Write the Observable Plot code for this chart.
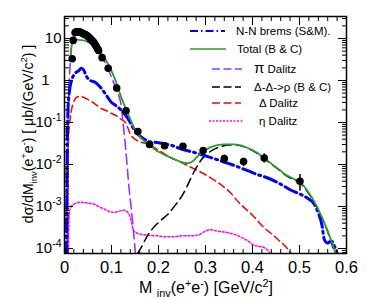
<!DOCTYPE html>
<html><head><meta charset="utf-8">
<script src="https://cdn.jsdelivr.net/npm/d3@7"></script>
<script src="https://cdn.jsdelivr.net/npm/@observablehq/plot@0.6"></script>
<style>body{margin:0;background:#fff}</style>
</head><body><div id="chart"></div>
<script>
// ---- data ----
const xTickValues = [0, 0.1, 0.2, 0.3, 0.4, 0.5, 0.6];
const xTickLabels = ["0", "0.1", "0.2", "0.3", "0.4", "0.5", "0.6"];
const yTickValues = [10, 1, 0.1, 0.01, 0.001, 0.0001];
const yTickLabels = ["10", "1", "10^-1", "10^-2", "10^-3", "10^-4"];

// measured points
const dataX = [0.0163, 0.0185, 0.0225, 0.025, 0.0275, 0.030, 0.0325, 0.035, 0.0375, 0.040, 0.0425, 0.045, 0.0475, 0.050, 0.0525, 0.055, 0.0575, 0.060, 0.0625, 0.065, 0.0675, 0.070, 0.0725, 0.080, 0.093, 0.111, 0.131, 0.156, 0.181, 0.213, 0.252, 0.295, 0.340, 0.381, 0.425, 0.501];
const dataY = [3.3, 9.0, 13.8, 14.4, 14.5, 14.4, 14.2, 13.9, 13.5, 13.0, 12.6, 12.2, 11.8, 11.2, 10.5, 9.9, 9.2, 8.6, 8.0, 7.2, 6.5, 5.8, 5.2, 3.5, 1.95, 0.66, 0.19, 0.061, 0.030, 0.028, 0.027, 0.0216, 0.0139, 0.0118, 0.0142, 0.0040];
const errX = [0.295, 0.340, 0.381, 0.425, 0.501];
const errLow = [0.019, 0.0103, 0.0089, 0.0109, 0.0023];
const errHigh = [0.025, 0.0167, 0.0141, 0.018, 0.0058];

// N-N brems (S&M)
const bremsX = [0.004, 0.0055, 0.007, 0.010, 0.015, 0.022, 0.030, 0.036, 0.041, 0.046, 0.055, 0.066, 0.075, 0.087, 0.10, 0.11, 0.12, 0.13, 0.14, 0.15, 0.16, 0.17, 0.18, 0.20, 0.23, 0.25, 0.275, 0.30, 0.325, 0.35, 0.38, 0.41, 0.43, 0.46, 0.48, 0.50, 0.52, 0.53, 0.54, 0.548, 0.553, 0.56, 0.568, 0.575, 0.583];
const bremsY = [7e-5, 0.01, 0.15, 0.5, 1.0, 1.45, 1.7, 1.95, 1.75, 1.3, 1.0, 0.9, 0.72, 0.48, 0.30, 0.25, 0.2, 0.15, 0.10, 0.062, 0.048, 0.040, 0.035, 0.033, 0.028, 0.023, 0.0195, 0.016, 0.013, 0.0105, 0.0079, 0.0058, 0.0049, 0.0034, 0.0025, 0.0020, 0.0015, 0.0012, 7e-4, 3.5e-4, 1.6e-4, 1.35e-4, 1.5e-4, 1.1e-4, 6e-5];

// Total (B & C)
const totalX = [0.012, 0.016, 0.020, 0.030, 0.040, 0.050, 0.060, 0.070, 0.080, 0.090, 0.100, 0.110, 0.120, 0.130, 0.140, 0.150, 0.160, 0.170, 0.180, 0.190, 0.200, 0.215, 0.230, 0.245, 0.261, 0.272, 0.289, 0.311, 0.339, 0.360, 0.389, 0.410, 0.425, 0.440, 0.455, 0.470, 0.485, 0.500, 0.510, 0.520, 0.530, 0.540, 0.550, 0.560, 0.570, 0.578];
const totalY = [3, 7.5, 9.3, 9.3, 9.0, 8.2, 7.2, 5.8, 4.2, 2.8, 1.7, 0.9, 0.42, 0.22, 0.12, 0.068, 0.046, 0.036, 0.029, 0.024, 0.020, 0.0165, 0.014, 0.0118, 0.0107, 0.0118, 0.018, 0.0259, 0.030, 0.030, 0.025, 0.019, 0.0140, 0.0105, 0.0078, 0.0058, 0.0047, 0.0039, 0.0030, 0.0021, 0.0014, 8.5e-4, 4.8e-4, 2.6e-4, 1.3e-4, 7e-5];

// pi Dalitz
const piX = [0.0065, 0.0075, 0.009, 0.011, 0.0135, 0.017, 0.021, 0.026, 0.030, 0.040, 0.050, 0.060, 0.070, 0.080, 0.090, 0.100, 0.110, 0.115, 0.120, 0.125, 0.130, 0.137, 0.144, 0.151];
const piY = [7.5e-5, 0.01, 0.3, 1.5, 4.5, 9, 12, 13.5, 13.5, 12.2, 10, 7.8, 5.6, 3.6, 2.2, 1.2, 0.62, 0.45, 0.28, 0.09, 0.025, 0.003, 5.6e-4, 7.5e-5];

// Delta-Delta -> rho (B & C)
const rhoX = [0.155, 0.165, 0.175, 0.190, 0.205, 0.220, 0.235, 0.250, 0.260, 0.270, 0.280, 0.290, 0.300, 0.315, 0.330, 0.350, 0.365, 0.389, 0.410, 0.425, 0.440, 0.455, 0.470, 0.485, 0.500, 0.520, 0.540, 0.560, 0.576];
const rhoY = [7.5e-5, 1.15e-4, 1.9e-4, 3.2e-4, 4.7e-4, 6.5e-4, 1.05e-3, 1.8e-3, 2.9e-3, 5e-3, 8.3e-3, 0.0125, 0.0165, 0.022, 0.026, 0.029, 0.029, 0.0245, 0.0185, 0.0136, 0.0102, 0.0076, 0.0056, 0.0045, 0.0037, 0.0020, 8.2e-4, 2.5e-4, 7e-5];

// Delta Dalitz
const deltaX = [0.006, 0.0075, 0.009, 0.012, 0.016, 0.022, 0.028, 0.034, 0.040, 0.050, 0.060, 0.070, 0.080, 0.090, 0.100, 0.110, 0.120, 0.130, 0.140, 0.155, 0.176, 0.197, 0.226, 0.250, 0.268, 0.300, 0.325, 0.350, 0.374, 0.400, 0.424, 0.450, 0.474, 0.485];
const deltaY = [7e-5, 0.01, 0.05, 0.12, 0.23, 0.35, 0.41, 0.42, 0.40, 0.35, 0.30, 0.25, 0.21, 0.19, 0.165, 0.145, 0.12, 0.10, 0.053, 0.037, 0.031, 0.023, 0.0145, 0.011, 0.0087, 0.0057, 0.0038, 0.0023, 0.00115, 6.2e-4, 3.2e-4, 1.8e-4, 1.0e-4, 7e-5];

// eta Dalitz
const etaX = [0.0085, 0.009, 0.011, 0.016, 0.025, 0.034, 0.045, 0.055, 0.062, 0.072, 0.084, 0.095, 0.105, 0.115, 0.126, 0.133, 0.140, 0.147, 0.155, 0.165, 0.180, 0.197, 0.215, 0.233, 0.250, 0.268, 0.285, 0.300, 0.311, 0.325, 0.346, 0.360, 0.374, 0.389, 0.403, 0.425, 0.440];
const etaY = [7e-5, 3e-4, 8e-4, 1.05e-3, 1.2e-3, 1.26e-3, 1.22e-3, 1.18e-3, 1.15e-3, 1.0e-3, 8.7e-4, 7.6e-4, 7.3e-4, 7.6e-4, 8.2e-4, 7.5e-4, 5.6e-4, 2.7e-4, 2.3e-4, 2.15e-4, 2.05e-4, 2.0e-4, 1.9e-4, 1.9e-4, 2.0e-4, 2.0e-4, 2.1e-4, 2.6e-4, 2.8e-4, 2.6e-4, 2.4e-4, 2.2e-4, 1.9e-4, 1.55e-4, 1.2e-4, 1.05e-4, 7e-5];

const legendLabels = ["N-N brems (S&M).", "Total (B & C)", "π Dalitz", "Δ-Δ->ρ (B & C)", "Δ Dalitz", "η Dalitz"];

// ---- helpers ----
const pts = (xs, ys) => xs.map((x, i) => ({x, y: ys[i]}));
const xMinor = d3.range(0, 0.6001, 0.02).map(v => +v.toFixed(3)).filter(v => !xTickValues.some(t => Math.abs(t - v) < 1e-9));
const yMinor = [];
for (let e = -5; e <= 1; e++) for (let m = 2; m <= 9; m++) { const v = m * Math.pow(10, e); if (v > 7.6e-5 && v < 33.4) yMinor.push(v); }

const font = "'Liberation Sans', Arial, sans-serif";
const line = (xs, ys, o) => Plot.line(pts(xs, ys), {x: "x", y: "y", curve: "monotone-x", clip: true, ...o});

const chart = Plot.plot({
  width: 374, height: 299,
  marginLeft: 64, marginRight: 28, marginTop: 16, marginBottom: 46,
  style: {fontFamily: font, background: "white", color: "black"},
  x: {domain: [0, 0.6]},
  y: {type: "log", domain: [7.6e-5, 33.4]},
  marks: [
    // curves
    line(etaX, etaY, {stroke: "#ff00ff", strokeWidth: 1.5, strokeDasharray: "2,2"}),
    line(deltaX, deltaY, {stroke: "#ff0000", strokeWidth: 1.5, strokeDasharray: "7,4"}),
    line(rhoX, rhoY, {stroke: "black", strokeWidth: 1.5, strokeDasharray: "9,5"}),
    line(piX, piY, {stroke: "#9933ff", strokeWidth: 1.6, strokeDasharray: "10,5"}),
    line(bremsX, bremsY, {stroke: "#0000ff", strokeWidth: 3, strokeDasharray: "13,4,2,4"}),
    line(totalX, totalY, {stroke: "#2e9b2e", strokeWidth: 1.8}),
    // data
    Plot.ruleX(errX.map((x, i) => ({x, lo: errLow[i], hi: errHigh[i]})), {x: "x", y1: "lo", y2: "hi", stroke: "black", strokeWidth: 1.5}),
    Plot.dot(pts(dataX, dataY), {x: "x", y: "y", r: 3.8, fill: "black", stroke: "none"}),
    // axes: ticks inside the frame
    Plot.axisX({anchor: "bottom", ticks: xTickValues, tickSize: -8, tickFormat: () => "", label: null}),
    Plot.axisX({anchor: "bottom", ticks: xMinor, tickSize: -4, tickFormat: () => "", label: null}),
    Plot.axisX({anchor: "top", ticks: xTickValues, tickSize: -8, tickFormat: () => "", label: null}),
    Plot.axisX({anchor: "top", ticks: xMinor, tickSize: -4, tickFormat: () => "", label: null}),
    Plot.axisX({anchor: "bottom", ticks: xTickValues, tickSize: 0, tickPadding: 8, fontSize: 16.5, tickFormat: d => xTickLabels[xTickValues.indexOf(d)], label: null}),
    Plot.axisY({anchor: "left", ticks: yTickValues, tickSize: -9, tickFormat: () => "", label: null}),
    Plot.axisY({anchor: "left", ticks: yMinor, tickSize: -5, tickFormat: () => "", label: null}),
    Plot.axisY({anchor: "right", ticks: yTickValues, tickSize: -9, tickFormat: () => "", label: null}),
    Plot.axisY({anchor: "right", ticks: yMinor, tickSize: -5, tickFormat: () => "", label: null}),
    Plot.axisY({anchor: "left", ticks: yTickValues, tickSize: 0, tickPadding: 3, fontSize: 15, tickFormat: d => yTickLabels[yTickValues.indexOf(d)], label: null}),
    Plot.frame({stroke: "black", strokeWidth: 1.5})
  ]
});
document.getElementById("chart").appendChild(chart);

const svg = d3.select(chart);
// superscripts in y tick labels; shift the lone "1" as in the reference
svg.selectAll("text").each(function() {
  const t = d3.select(this);
  const s = this.textContent;
  if (/^10\^/.test(s) && this.childNodes.length === 1) {
    const [base, exp] = s.split("^");
    t.text(null);
    t.append("tspan").text(base);
    t.append("tspan").attr("dy", "-6").attr("font-size", 10.5).text(exp);
  } else if (s === "1") {
    const p = this.closest("g");
    if (p && p.getAttribute("text-anchor") === "end") t.attr("dx", -12);
  }
});

// axis titles
const rich = (sel, parts) => {
  let shift = 0;
  for (const [txt, kind] of parts) {
    const ts = sel.append("tspan").text(txt);
    let target = kind === "sub" ? 4 : kind === "sup" ? -6 : 0;
    if (kind) ts.attr("font-size", "0.68em");
    ts.attr("dy", target - shift);
    shift = target;
  }
};
const xt = svg.append("text").attr("x", 206).attr("y", 293).attr("text-anchor", "middle")
  .attr("font-family", font).attr("font-size", 16).attr("fill", "black");
rich(xt, [["M ", null], ["inv", "sub"], ["(e", null], ["+", "sup"], ["e", null], ["-", "sup"], [") [GeV/c", null], ["2", "sup"], ["]", null]]);
const yt = svg.append("text").attr("transform", "translate(33,134) rotate(-90)").attr("text-anchor", "middle")
  .attr("font-family", font).attr("font-size", 14).attr("fill", "black");
rich(yt, [["dσ/dM", null], ["inv", "sub"], ["(e", null], ["+", "sup"], ["e", null], ["-", "sup"], [") [ μb/(GeV/c", null], ["2", "sup"], [") ]", null]]);

// legend
const leg = [
  {x1: 190, x2: 225, y: 31, tx: 236, stroke: "#0000ff", w: 2, dash: "8,3,1.5,3"},
  {x1: 190, x2: 226, y: 49, tx: 237, stroke: "#2e9b2e", w: 1.5, dash: null},
  {x1: 212, x2: 242, y: 69, tx: 254, stroke: "#9933ff", w: 1.6, dash: "8,3.5"},
  {x1: 212, x2: 241, y: 87, tx: 254, stroke: "black", w: 1.5, dash: "8,3.5"},
  {x1: 212, x2: 241, y: 103, tx: 259, stroke: "#ff0000", w: 1.5, dash: "8,3.5"},
  {x1: 209, x2: 244, y: 121, tx: 259, stroke: "#ff00ff", w: 1.5, dash: "2,1.5"}
];
const lg = svg.append("g").attr("font-family", font).attr("font-size", 11.5).attr("fill", "black").attr("text-anchor", "start");
leg.forEach((d, i) => {
  lg.append("line").attr("x1", d.x1).attr("x2", d.x2).attr("y1", d.y).attr("y2", d.y)
    .attr("stroke", d.stroke).attr("stroke-width", d.w).attr("stroke-dasharray", d.dash);
  const t = lg.append("text").attr("x", d.tx).attr("y", d.y + 4).attr("text-anchor", "start");
  const lab = legendLabels[i];
  if (lab.startsWith("π")) {
    t.append("tspan").attr("font-size", 15).text("π");
    t.append("tspan").text(lab.slice(1));
  } else t.text(lab);
});
</script>
</body></html>
